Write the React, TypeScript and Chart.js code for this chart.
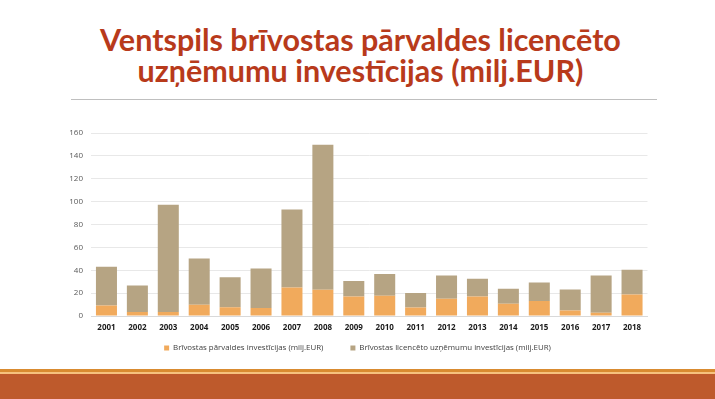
import React, { useEffect, useRef } from "react";
import { Chart, registerables } from "chart.js";

Chart.register(...registerables);

const years = ["2001","2002","2003","2004","2005","2006","2007","2008","2009","2010","2011","2012","2013","2014","2015","2016","2017","2018"];
const parvaldesInv = [9.3, 3.5, 3.5, 9.9, 7.8, 7.0, 25.0, 23.0, 17.2, 17.7, 7.6, 15.1, 17.2, 10.8, 13.1, 4.9, 2.9, 18.9];
const licencetoInv = [33.8, 23.3, 93.8, 40.5, 26.2, 34.6, 68.2, 126.7, 13.4, 19.0, 12.5, 20.4, 15.4, 13.1, 16.3, 18.4, 32.6, 21.6];
const seriesNames = ["Brīvostas pārvaldes investīcijas (milj.EUR)", "Brīvostas licencēto uzņēmumu investīcijas (milj.EUR)"];
const titleLines = ["Ventspils brīvostas pārvaldes licencēto", "uzņēmumu investīcijas (milj.EUR)"];

const LEGEND_FONT = 7.9;
const LEGEND_PAD = 27;

const legendShift = {
  id: "legendShift",
  afterLayout(chart: any) {
    const lg = chart.legend;
    if (!lg) return;
    const h = lg.bottom - lg.top;
    const center = 228; // canvas coords of legend row centre
    lg.top = center - LEGEND_PAD - Math.max(LEGEND_FONT, 5) / 2;
    lg.bottom = lg.top + h;
  },
};

export default function App() {
  const ref = useRef<HTMLCanvasElement | null>(null);
  useEffect(() => {
    if (!ref.current) return;
    const chart = new Chart(ref.current, {
      type: "bar",
      data: {
        labels: years,
        datasets: [
          { label: seriesNames[0], data: parvaldesInv, backgroundColor: "#F1AA5C", barPercentage: 0.85, categoryPercentage: 0.8 },
          { label: seriesNames[1], data: licencetoInv, backgroundColor: "#B6A483", barPercentage: 0.85, categoryPercentage: 0.8 },
        ],
      },
      options: {
        responsive: false,
        animation: false,
        devicePixelRatio: 1,
        layout: { padding: { top: 13, left: 0, right: 0, bottom: 0 } },
        plugins: {
          tooltip: { enabled: false },
          legend: {
            position: "bottom",
            labels: {
              boxWidth: 5,
              boxHeight: 5,
              padding: LEGEND_PAD,
              color: "#404040",
              font: { family: "'Open Sans', sans-serif", size: LEGEND_FONT },
            },
          },
        },
        scales: {
          x: {
            stacked: true,
            grid: { display: false, drawTicks: false },
            border: { display: true, color: "#D9D9D9" },
            ticks: { color: "#1a1a1a", padding: 7, maxRotation: 0, autoSkip: false, font: { family: "'Open Sans', sans-serif", size: 8, weight: "bold" } },
            afterFit: (s: any) => { s.height = 24; },
          },
          y: {
            stacked: true,
            min: 0,
            max: 160,
            ticks: { stepSize: 20, color: "#595959", padding: 8, font: { family: "'Open Sans', sans-serif", size: 8 } },
            grid: { color: "#E8E8E8", drawTicks: false },
            border: { display: false },
            afterFit: (s: any) => { s.width = 91; },
          },
          y2: {
            position: "right",
            display: true,
            grid: { display: false },
            border: { display: false },
            ticks: { display: false },
            afterFit: (s: any) => { s.width = 67.5; },
          },
        },
      },
      plugins: [legendShift],
    });
    return () => chart.destroy();
  }, []);

  return (
    <div style={{ position: "fixed", left: 0, top: 0, width: 715, height: 399, background: "#fff", overflow: "hidden" }}>
      <div style={{ position: "absolute", left: 3, top: 24, width: 715, textAlign: "center", fontFamily: "Lato, sans-serif", fontWeight: 700, fontSize: 30.5, lineHeight: "31px", color: "#B83A1B" }}>
        <div>{titleLines[0]}</div>
        <div>{titleLines[1]}</div>
      </div>
      <div style={{ position: "absolute", left: 71, top: 99, width: 586, height: 1, background: "#BFBFBF" }} />
      <canvas ref={ref} width={715} height={265} style={{ position: "absolute", left: 0, top: 120, width: 715, height: 265 }} />
      <div style={{ position: "absolute", left: 0, top: 369, width: 715, height: 3, background: "#D98B30" }} />
      <div style={{ position: "absolute", left: 0, top: 372, width: 715, height: 2, background: "#F6C27E" }} />
      <div style={{ position: "absolute", left: 0, top: 374, width: 715, height: 25, background: "#BE5A2C" }} />
    </div>
  );
}
